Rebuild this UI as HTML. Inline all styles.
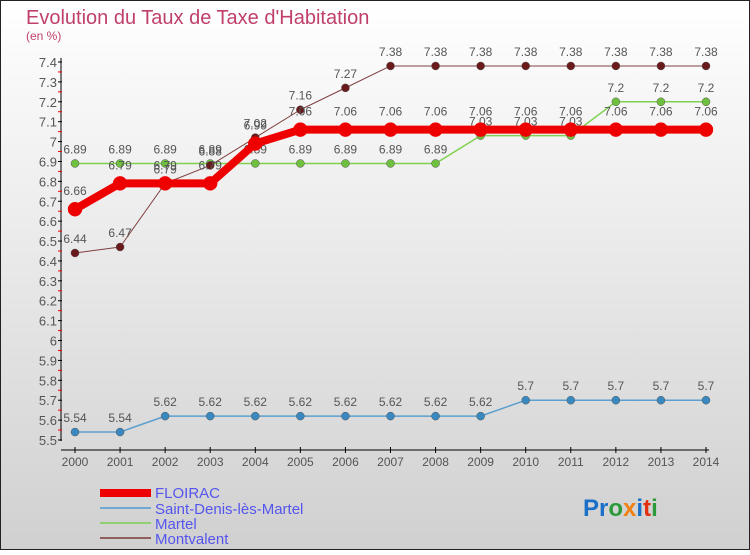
<!DOCTYPE html>
<html><head><meta charset="utf-8"><style>
html,body{margin:0;padding:0}
body{width:750px;height:550px;overflow:hidden;font-family:"Liberation Sans",sans-serif}
</style></head><body>
<svg id="c" width="750" height="550" xmlns="http://www.w3.org/2000/svg" font-family="Liberation Sans, sans-serif">
<defs><linearGradient id="bg" x1="0" y1="0" x2="0" y2="1"><stop offset="0" stop-color="#ffffff"/><stop offset="1" stop-color="#d0d0d0"/></linearGradient></defs>
<rect x="0.5" y="0.5" width="749" height="549" fill="url(#bg)" stroke="#222"/>
<text x="26" y="24" font-size="20" fill="#c0406a">Evolution du Taux de Taxe d'Habitation</text>
<text x="26" y="40" font-size="12" fill="#c0406a">(en %)</text>
<g id="axes"></g><g id="series"></g>
<g>
<rect x="100" y="489" width="51" height="8" fill="#ee0000"/>
<text x="155" y="498" font-size="15" fill="#5555ee">FLOIRAC</text>
<rect x="100" y="507" width="51" height="2" fill="#6fa8d0"/>
<text x="155" y="514" font-size="15" fill="#5555ee">Saint-Denis-lès-Martel</text>
<rect x="100" y="522" width="51" height="2" fill="#90d070"/>
<text x="155" y="529" font-size="15" fill="#5555ee">Martel</text>
<rect x="100" y="537" width="51" height="2" fill="#906060"/>
<text x="155" y="544" font-size="15" fill="#5555ee">Montvalent</text>
</g>
<text x="583" y="516" font-size="24" font-weight="bold"><tspan fill="#1a6fc8">Pr</tspan><tspan fill="#2a9a3a">o</tspan><tspan fill="#f08010">x</tspan><tspan fill="#1a6fc8">i</tspan><tspan fill="#e03010">t</tspan><tspan fill="#2a9a3a">i</tspan></text>
</svg>
<script>
const years=[2000,2001,2002,2003,2004,2005,2006,2007,2008,2009,2010,2011,2012,2013,2014];
const yTicks=[5.5,5.6,5.7,5.8,5.9,6,6.1,6.2,6.3,6.4,6.5,6.6,6.7,6.8,6.9,7,7.1,7.2,7.3,7.4];
const floirac=[6.66,6.79,6.79,6.79,6.99,7.06,7.06,7.06,7.06,7.06,7.06,7.06,7.06,7.06,7.06];
const saintDenis=[5.54,5.54,5.62,5.62,5.62,5.62,5.62,5.62,5.62,5.62,5.7,5.7,5.7,5.7,5.7];
const martel=[6.89,6.89,6.89,6.89,6.89,6.89,6.89,6.89,6.89,7.03,7.03,7.03,7.2,7.2,7.2];
const montvalent=[6.44,6.47,6.79,6.88,7.02,7.16,7.27,7.38,7.38,7.38,7.38,7.38,7.38,7.38,7.38];
const NS='http://www.w3.org/2000/svg';
const x=i=>75+i*(631/14);
const y=v=>62+(7.4-v)*(378/1.9);
function mk(t,a,p){const e=document.createElementNS(NS,t);for(const k in a)e.setAttribute(k,a[k]);p.appendChild(e);return e;}
const ax=document.getElementById('axes');
let l=mk('line',{x1:61,y1:58,x2:61,y2:441,stroke:'#000'},ax);


l=mk('line',{x1:61,y1:450,x2:709,y2:450,stroke:'#000'},ax);


yTicks.forEach((v,i)=>{
  mk('line',{x1:58,y1:y(v),x2:62,y2:y(v),stroke:'#000'},ax);
  if(i<yTicks.length-1)mk('line',{x1:58,y1:y(v+0.05),x2:62,y2:y(v+0.05),stroke:'#e00'},ax);
  const t=mk('text',{x:57,y:y(v)+5,'font-size':13,fill:'#555','text-anchor':'end'},ax);
  
  
  t.textContent=String(v);
});
years.forEach((yr,i)=>{
  mk('line',{x1:x(i),y1:447,x2:x(i),y2:453,stroke:'#000'},ax);
  const t=mk('text',{x:x(i),y:466,'font-size':12,fill:'#555','text-anchor':'middle'},ax);
  
  
  t.textContent=String(yr);
});
const sg=document.getElementById('series');
function draw(name,vals,color,w,r,dot,dy){
  const g=mk('g',{},sg);
  
  
  const p=mk('polyline',{points:vals.map((v,i)=>x(i)+','+y(v)).join(' '),fill:'none',stroke:color,'stroke-width':w,'stroke-linejoin':'round'},g);
  
  
  vals.forEach((v,i)=>{
    const c=mk('circle',{cx:x(i),cy:y(v),r:r,fill:dot,stroke:color==='#ee0000'?'#ee0000':'#555','stroke-width':0.5},g);
    
    
    const t=mk('text',{x:x(i),y:y(v)-dy,'font-size':12,fill:'#555','text-anchor':'middle'},g);
    
    
    t.textContent=String(v);
  });
}
draw('saint-denis',saintDenis,'#5a9fd0',1.5,4,'#3a88c0',10);
draw('martel',martel,'#80d050',1.5,4,'#70c040',10);
draw('montvalent',montvalent,'#804040',1,4,'#6a1a1a',10);
draw('floirac',floirac,'#ee0000',8,7,'#ee0000',14);
</script>
</body></html>
